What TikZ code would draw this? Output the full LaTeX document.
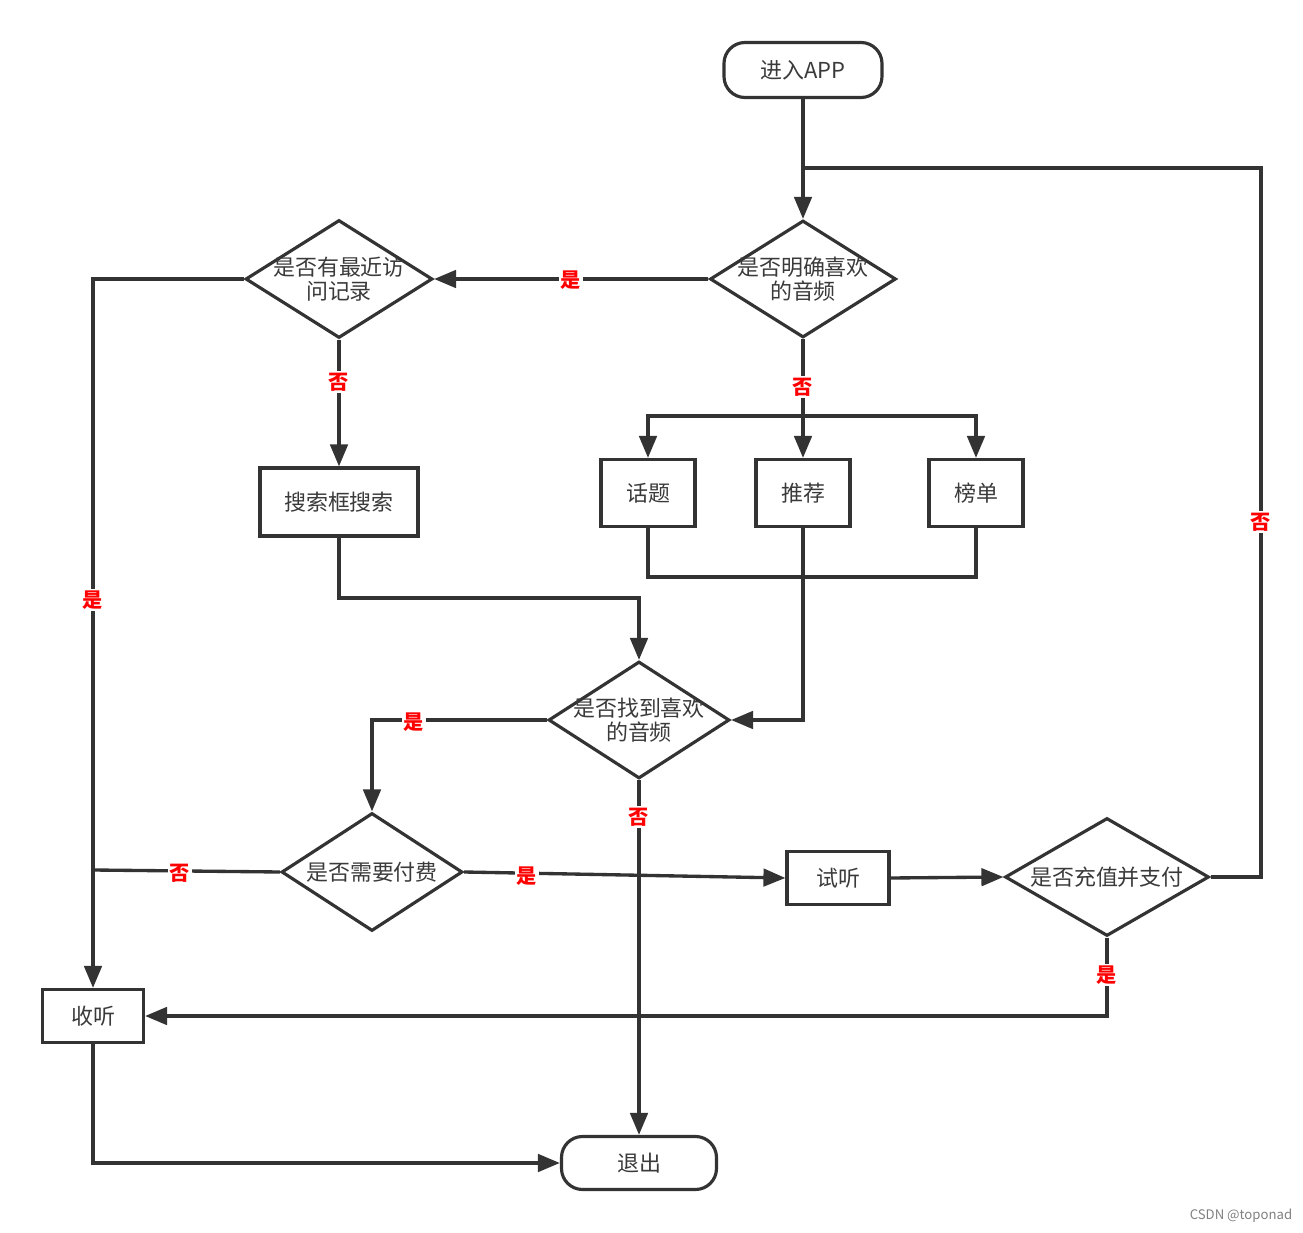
\documentclass[tikz,border=0pt]{standalone}
\usepackage{fontspec}
\setmainfont{Noto Sans CJK SC}
\usetikzlibrary{shapes.geometric,arrows.meta}
\definecolor{ln}{HTML}{333333}
\definecolor{tx}{HTML}{3A3A3A}
\begin{document}
\begin{tikzpicture}[x=0.02cm,y=-0.02cm,line width=1.9pt,color=ln,
  every node/.style={font=\fontsize{12.5}{16}\selectfont, text=tx},
  term/.style={draw=ln, line width=1.8pt, rectangle, rounded corners=0.42cm, inner sep=0},
  box/.style={draw=ln, line width=1.8pt, rectangle, inner sep=0},
  dia/.style={draw=ln, line width=1.8pt, diamond, inner sep=0},
  lab/.style={fill=white, text=red, font=\fontsize{11.5}{13}\selectfont\bfseries, inner sep=1pt},
  arr/.style={-{Triangle[length=0.44cm,width=0.35cm]}}]
\useasboundingbox (0,0) rectangle (1303,1233);
% nodes
\node[term, minimum width=158*0.02cm, minimum height=55*0.02cm] (start) at (803,70) {进入APP};
\node[dia, minimum width=186*0.02cm, minimum height=117*0.02cm,
  label={[align=center, font=\fontsize{12.5}{14}\selectfont]center:是否明确喜欢\\的音频}] (d1) at (803,279) {};
\node[dia, minimum width=187*0.02cm, minimum height=118*0.02cm,
  label={[align=center, font=\fontsize{12.5}{14}\selectfont]center:是否有最近访\\问记录}] (d2) at (339,279) {};
\node[box, minimum width=158*0.02cm, minimum height=68*0.02cm] (search) at (339,502) {搜索框搜索};
\node[box, minimum width=94*0.02cm, minimum height=67*0.02cm] (topic) at (648,493) {话题};
\node[box, minimum width=94*0.02cm, minimum height=67*0.02cm] (rec) at (803,493) {推荐};
\node[box, minimum width=94*0.02cm, minimum height=67*0.02cm] (rank) at (976,493) {榜单};
\node[dia, minimum width=181*0.02cm, minimum height=117*0.02cm,
  label={[align=center, font=\fontsize{12.5}{14}\selectfont]center:是否找到喜欢\\的音频}] (d3) at (639,720) {};
\node[dia, minimum width=181*0.02cm, minimum height=118*0.02cm,
  label={center:是否需要付费}] (d4) at (372,872) {};
\node[box, minimum width=102*0.02cm, minimum height=53*0.02cm] (try) at (838,878) {试听};
\node[dia, minimum width=204*0.02cm, minimum height=118*0.02cm,
  label={center:是否充值并支付}] (d5) at (1107,877) {};
\node[box, minimum width=101*0.02cm, minimum height=53*0.02cm] (listen) at (93,1016) {收听};
\node[term, minimum width=155*0.02cm, minimum height=53*0.02cm] (exit) at (639,1163) {退出};
% coordinates
\coordinate (j1) at (803,168);
\coordinate (j2) at (803,416);
\coordinate (j3) at (803,577);
\coordinate (j4) at (639,598);
\coordinate (j5) at (93,870);
% connectors
\draw[arr] (start) -- (d1);
\draw (d5.east) -| (1261,168) -- (j1);
\draw[arr] (d1.west) -- (d2.east);
\draw[arr] (d2.south) -- (search.north);
\draw[arr] (d2.west) -| (listen.north);
\draw (d1.south) -- (j2);
\draw[arr] (j2) -- (rec.north);
\draw[arr] (j2) -| (topic.north);
\draw[arr] (j2) -| (rank.north);
\draw (topic.south) |- (j3) -| (rank.south);
\draw[arr] (rec.south) |- (d3.east);
\draw[arr] (search.south) |- (j4) -- (d3.north);
\draw[arr] (d3.west) -| (d4.north);
\draw[arr] (d3.south) -- (exit.north);
\draw (d4.west) -- (j5);
\draw[arr] (d4.east) -- (try.west);
\draw[arr] (try.east) -- (d5.west);
\draw[arr] (d5.south) |- (listen.east);
\draw[arr] (listen.south) |- (exit.west);
% labels
\node[lab] (l1) at (571,280) {是};
\node[lab] (l2) at (339,382) {否};
\node[lab] (l3) at (93,600) {是};
\node[lab] (l4) at (803,387) {否};
\node[lab] (l5) at (414,722) {是};
\node[lab] (l6) at (639,817) {否};
\node[lab] (l7) at (180,873) {否};
\node[lab] (l8) at (527,876) {是};
\node[lab] (l9) at (1107,975) {是};
\node[lab] (l10) at (1261,522) {否};
\node[font=\fontsize{7.5}{9}\selectfont, text=gray] (wm) at (1241,1216) {CSDN @toponad};
\end{tikzpicture}
\end{document}
